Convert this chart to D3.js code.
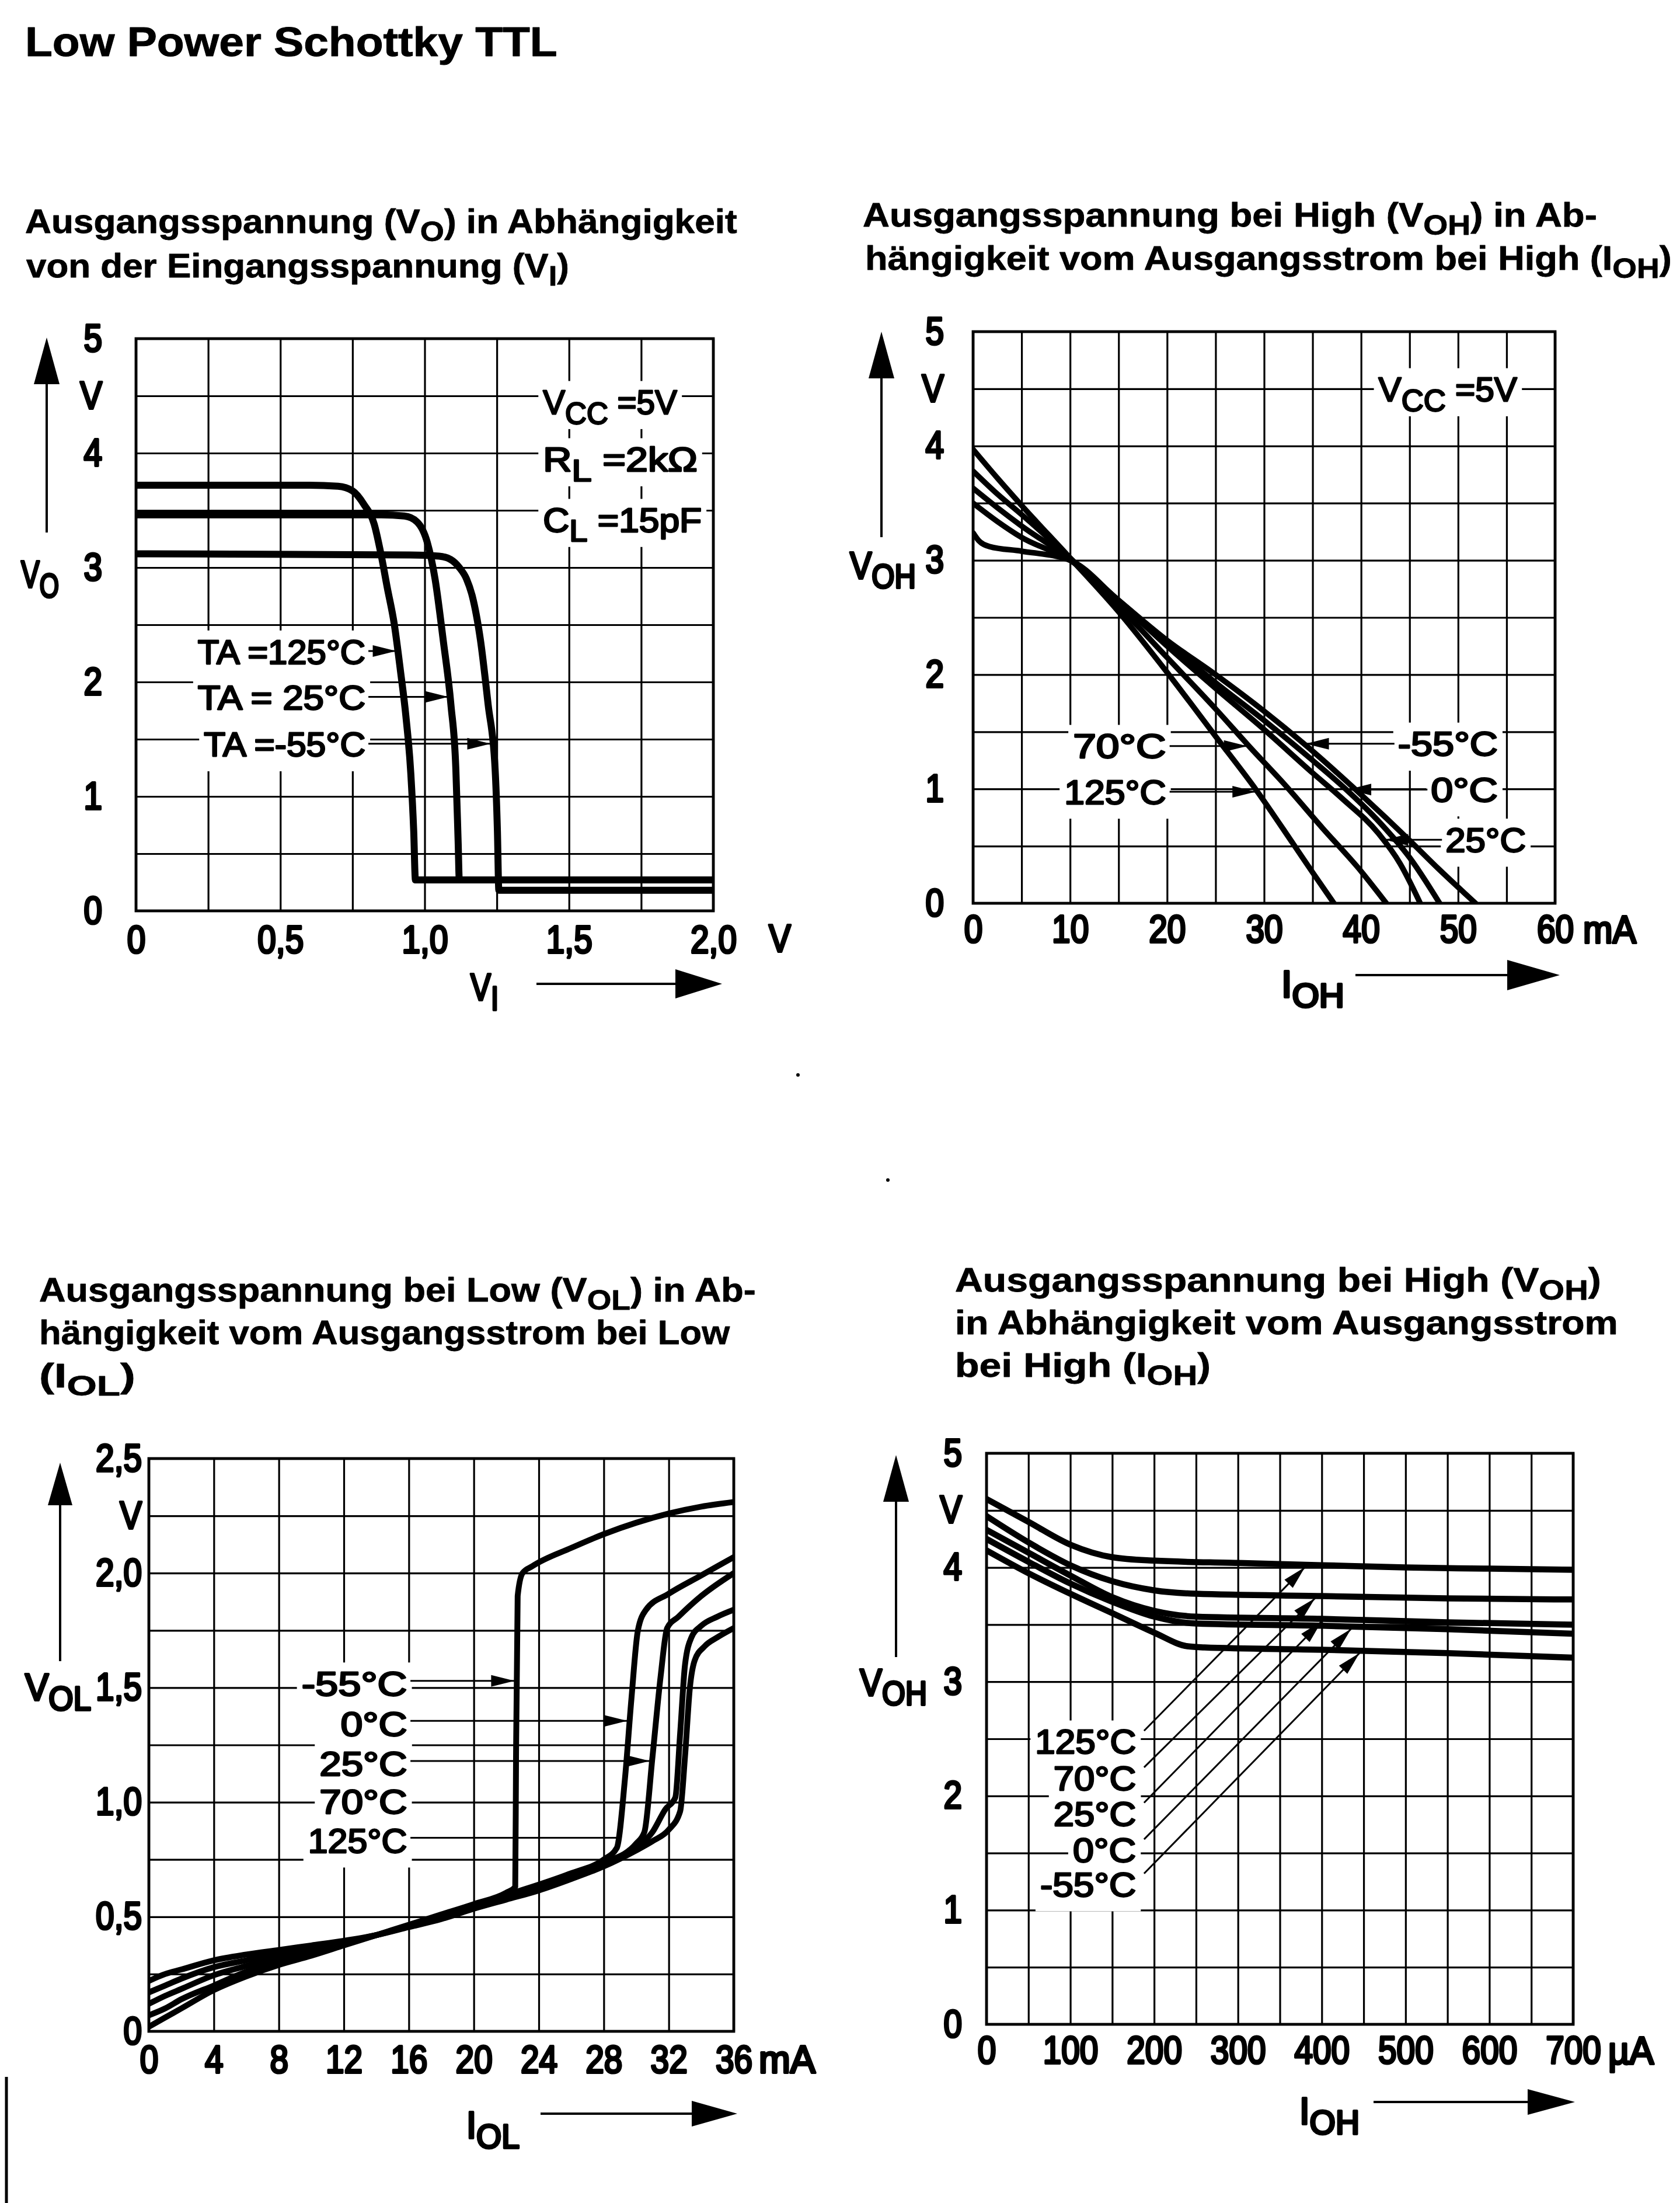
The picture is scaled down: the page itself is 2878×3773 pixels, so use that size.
<!DOCTYPE html>
<html><head><meta charset="utf-8">
<script src="https://cdn.jsdelivr.net/npm/d3@7"></script>
<style>
html,body{margin:0;padding:0;background:#fff;}
svg{display:block;}
text{font-family:'Liberation Sans',Arial,Helvetica,sans-serif;fill:#000;}
</style></head><body>
<svg id="c" width="2878" height="3773"></svg>
<script>
// ================= DATA =================
// Panel 1: V_O vs V_I  (x: V_I in V, y: V_O in V)
const p1XTicks = [0, 0.5, 1.0, 1.5, 2.0];
const p1YTicks = [0, 1, 2, 3, 4, 4.5, 5];
const p1_T125 = [[0,3.72],[0.6,3.72],[0.7,3.71],[0.75,3.67],[0.79,3.55],[0.825,3.38],[0.85,3.1],[0.87,2.83],[0.895,2.5],[0.916,2.1],[0.935,1.7],[0.952,1.2],[0.962,0.7],[0.968,0.27],[2.0,0.27]];
const p1_T25  = [[0,3.46],[0.85,3.46],[0.93,3.45],[0.973,3.40],[1.009,3.22],[1.036,2.9],[1.064,2.37],[1.091,1.8],[1.108,1.24],[1.116,0.6],[1.12,0.27],[2.0,0.27]];
const p1_Tm55 = [[0,3.12],[0.95,3.11],[1.05,3.1],[1.09,3.07],[1.12,3.0],[1.145,2.9],[1.165,2.75],[1.193,2.37],[1.22,1.8],[1.244,1.24],[1.252,0.7],[1.257,0.18],[2.0,0.18]];
const p1Names = ["TA =125°C", "TA = 25°C", "TA =-55°C"];

// Panel 2: V_OH vs I_OH (mA)
const p2XTicks = [0, 10, 20, 30, 40, 50, 60];
const p2YTicks = [0, 1, 2, 3, 4, 4.5, 5];
const p2_T125 = [[0,3.97],[2.5,3.72],[5,3.48],[10,3.02],[15,2.55],[20,2.02],[25,1.46],[29.2,0.99],[33,0.52],[35,0.27],[37.2,0]];
const p2_T70  = [[0,3.78],[2.5,3.58],[5,3.4],[10,3.02],[15,2.6],[20,2.15],[25,1.7],[28.6,1.36],[32,1.05],[36,0.66],[40,0.28],[42.6,0]];
const p2_T25  = [[0,3.63],[2.5,3.46],[5,3.3],[10,3.01],[15,2.64],[20,2.25],[25,1.88],[30,1.52],[35,1.14],[38,0.92],[41.8,0.61],[44,0.35],[46.1,0]];
const p2_T0   = [[0,3.5],[2.5,3.34],[5,3.2],[10,3.0],[15,2.65],[20,2.28],[25,1.93],[30,1.6],[35,1.25],[38.4,1.0],[42,0.7],[45,0.4],[48.1,0]];
const p2_Tm55 = [[0,3.24],[0.6,3.17],[1.7,3.12],[5,3.08],[10,3.0],[15,2.65],[20,2.3],[25,2.0],[30,1.68],[34.6,1.36],[40,0.95],[45,0.55],[48,0.3],[51.8,0]];
const p2Names = ["70°C", "125°C", "-55°C", "0°C", "25°C"];

// Panel 3: V_OL vs I_OL (mA)
const p3XTicks = [0, 4, 8, 12, 16, 20, 24, 28, 32, 36];
const p3YTicks = [0, 0.5, 1.0, 1.5, 2.0, 2.25, 2.5];
const p3_Tm55 = [[0,0.02],[1,0.06],[2,0.1],[4,0.18],[6,0.24],[8,0.29],[10,0.33],[12,0.375],[14,0.42],[16,0.465],[18,0.51],[20,0.555],[22,0.605],[22.55,0.63],[22.6,1.2],[22.7,1.9],[23.0,2.0],[23.6,2.03],[26,2.11],[28,2.17],[30,2.22],[32,2.26],[34,2.29],[36,2.31]];
const p3_T0   = [[0,0.07],[1,0.1],[2,0.14],[4,0.2],[6,0.26],[8,0.3],[10,0.34],[12,0.38],[14,0.42],[16,0.462],[18,0.505],[20,0.55],[22,0.595],[24,0.64],[26,0.69],[28,0.75],[28.8,0.8],[29.3,1.1],[29.7,1.45],[30.1,1.75],[30.6,1.84],[32,1.91],[34,1.99],[36,2.07]];
const p3_T25  = [[0,0.12],[1,0.155],[2,0.185],[4,0.245],[6,0.285],[8,0.32],[10,0.35],[12,0.385],[14,0.42],[16,0.46],[18,0.5],[20,0.545],[22,0.585],[24,0.63],[26,0.68],[28,0.735],[30,0.82],[30.5,0.87],[31.0,1.2],[31.5,1.55],[31.9,1.76],[32.6,1.81],[34,1.9],[36,2.0]];
const p3_T70  = [[0,0.17],[1,0.2],[2,0.23],[4,0.28],[6,0.31],[8,0.34],[10,0.365],[12,0.39],[14,0.42],[16,0.458],[18,0.497],[20,0.54],[22,0.58],[24,0.62],[26,0.67],[28,0.725],[30,0.8],[31,0.87],[31.8,0.97],[32.4,1.02],[32.7,1.3],[33.0,1.6],[33.4,1.72],[34,1.77],[35,1.81],[36,1.84]];
const p3_T125 = [[0,0.22],[1,0.25],[2,0.27],[4,0.31],[6,0.335],[8,0.355],[10,0.375],[12,0.395],[14,0.42],[16,0.455],[18,0.49],[20,0.535],[22,0.575],[24,0.615],[26,0.665],[28,0.72],[30,0.79],[31,0.83],[32,0.88],[32.7,0.96],[33.0,1.2],[33.3,1.5],[33.6,1.62],[34.2,1.68],[35,1.72],[36,1.76]];
const p3Names = ["-55°C", "0°C", "25°C", "70°C", "125°C"];

// Panel 4: V_OH vs I_OH (µA)
const p4XTicks = [0, 100, 200, 300, 400, 500, 600, 700];
const p4YTicks = [0, 1, 2, 3, 4, 4.5, 5];
const p4_T125 = [[0,4.6],[50,4.4],[100,4.2],[150,4.09],[200,4.06],[300,4.04],[400,4.02],[500,4.0],[600,3.99],[700,3.98]];
const p4_T70  = [[0,4.45],[50,4.22],[100,4.02],[150,3.88],[200,3.8],[250,3.77],[400,3.75],[550,3.73],[700,3.72]];
const p4_T25  = [[0,4.33],[50,4.13],[100,3.93],[150,3.74],[200,3.62],[250,3.57],[400,3.55],[550,3.52],[700,3.5]];
const p4_T0   = [[0,4.25],[50,4.05],[100,3.86],[150,3.7],[200,3.57],[250,3.51],[400,3.49],[550,3.46],[700,3.42]];
const p4_Tm55 = [[0,4.15],[50,3.95],[100,3.77],[150,3.6],[200,3.43],[240,3.31],[260,3.3],[400,3.28],[550,3.25],[700,3.21]];
const p4Names = ["125°C", "70°C", "25°C", "0°C", "-55°C"];

// ================= DRAWING =================
const svg = d3.select("#c");
svg.append("rect").attr("width", 2878).attr("height", 3773).attr("fill", "#fff");

const loc = d3.formatLocale({decimal: ",", thousands: ".", grouping: [3], currency: ["", "€"]});
const f1 = loc.format(".1f");
const fmtComma = v => v === 0 ? "0" : f1(v);
const TICK_SX = 0.86;
const THICK = 2.8;      // extra ink weight for annotation labels
const TICK_THICK = 4.2; // extra ink weight for tick / axis labels

function rich(parent, parts, size, weight, subScale, subDy) {
  const t = parent.append("text").attr("font-size", size).attr("font-weight", weight || "normal");
  let down = false;
  for (const p of parts) {
    const isSub = Array.isArray(p);
    const s = isSub ? p[0] : p;
    const ts = t.append("tspan").text(s);
    if (isSub) {
      ts.attr("font-size", size * subScale);
      if (!down) { ts.attr("dy", size * subDy); down = true; }
    } else if (down) { ts.attr("dy", -size * subDy); down = false; }
  }
  return t;
}
// place text so its box spans x0..x1 (horizontally scaled), baseline yb
function label(parent, parts, x0, x1, yb, size, o = {}) {
  const g = parent.append("g");
  const t = rich(g, parts, size, o.weight, o.subScale || 0.82, o.subDy || 0.26);
  if (o.thick) t.style("stroke", "#000").style("stroke-width", o.thick + "px").style("stroke-linejoin", "round");
  const bb = t.node().getBBox();
  const k = (x1 != null) ? (x1 - x0) / bb.width : (o.k || 1);
  g.attr("transform", `translate(${x0 - bb.x * k},${yb}) scale(${k},1)`);
  if (o.knock) {
    g.insert("rect", "text").attr("x", bb.x - 8 / k).attr("y", -size * 0.98)
      .attr("width", bb.width + 16 / k).attr("height", size * 1.42).attr("fill", "#fff");
  }
  return g;
}
function arrowHead(g, x1, y1, x2, y2, len, hw) {
  const a = Math.atan2(y2 - y1, x2 - x1);
  const bx = x2 - len * Math.cos(a), by = y2 - len * Math.sin(a);
  const px = -Math.sin(a) * hw, py = Math.cos(a) * hw;
  g.append("path").attr("d", `M${x2},${y2}L${bx + px},${by + py}L${bx - px},${by - py}Z`).attr("fill", "#000");
}
function leader(g, x1, y1, x2, y2, head = true) {
  g.append("line").attr("x1", x1).attr("y1", y1).attr("x2", x2).attr("y2", y2)
    .attr("stroke", "#000").attr("stroke-width", 3);
  if (head) arrowHead(g, x1, y1, x2, y2, 40, 10);
}
function crossX(pts, v) {
  for (let i = 0; i < pts.length - 1; i++) {
    const a = pts[i], b = pts[i + 1];
    if ((a[1] - v) * (b[1] - v) <= 0 && a[1] !== b[1]) return a[0] + (v - a[1]) / (b[1] - a[1]) * (b[0] - a[0]);
  }
  return pts[pts.length - 1][0];
}
function valAt(pts, xv) {
  for (let i = 0; i < pts.length - 1; i++) {
    const a = pts[i], b = pts[i + 1];
    if (xv >= a[0] && xv <= b[0]) return a[1] + (xv - a[0]) / (b[0] - a[0]) * (b[1] - a[1]);
  }
  return pts[pts.length - 1][1];
}
function yArrow(x, tip, base, hw, bottom) {
  svg.append("line").attr("x1", x).attr("x2", x).attr("y1", base - 2).attr("y2", bottom).attr("stroke", "#000").attr("stroke-width", 4);
  svg.append("path").attr("d", `M${x},${tip}L${x - hw},${base}L${x + hw},${base}Z`).attr("fill", "#000");
}
function xArrow(y, start, base, tip, hh) {
  svg.append("line").attr("x1", start).attr("x2", base + 2).attr("y1", y).attr("y2", y).attr("stroke", "#000").attr("stroke-width", 4);
  svg.append("path").attr("d", `M${tip},${y}L${base},${y - hh}L${base},${y + hh}Z`).attr("fill", "#000");
}

let clipId = 0;
function makePanel(c) {
  const x = d3.scaleLinear().domain(c.xDomain).range([c.left, c.right]);
  const y = d3.scaleLinear().domain(c.yDomain).range([c.bottom, c.top]);
  const g = svg.append("g");
  const w = c.right - c.left, h = c.bottom - c.top;
  const gridStyle = a => { a.select(".domain").remove(); a.selectAll("line").attr("stroke", "#000").attr("stroke-width", 3.2); };
  g.append("g").attr("transform", `translate(0,${c.bottom})`)
    .call(d3.axisBottom(x).tickValues(c.xGrid).tickSize(-h).tickFormat("")).call(gridStyle);
  g.append("g").attr("transform", `translate(${c.left},0)`)
    .call(d3.axisLeft(y).tickValues(c.yGrid).tickSize(-w).tickFormat("")).call(gridStyle);
  g.append("rect").attr("x", c.left).attr("y", c.top).attr("width", w).attr("height", h)
    .attr("fill", "none").attr("stroke", "#000").attr("stroke-width", 4.8);
  // tick labels through d3 axes
  const xa = g.append("g").attr("transform", `translate(0,${c.bottom})`)
    .call(d3.axisBottom(x).tickValues(c.xTicks).tickSize(0).tickPadding(c.xPad).tickFormat(c.xFmt));
  const ya = g.append("g").attr("transform", `translate(${c.left},0)`)
    .call(d3.axisLeft(y).tickValues(c.yTicks).tickSize(0).tickPadding(c.yPad / TICK_SX).tickFormat(c.yFmt));
  [xa, ya].forEach(a => {
    a.select(".domain").remove();
    a.attr("font-family", null).attr("font-size", null).attr("color", "#000");
    a.selectAll("text").attr("font-size", 66).attr("fill", "#000")
      .style("stroke", "#000").style("stroke-width", TICK_THICK + "px").style("stroke-linejoin", "round")
      .attr("transform", `scale(${TICK_SX},1)`);
  });
  const id = "clip" + (clipId++);
  svg.append("clipPath").attr("id", id).append("rect").attr("x", c.left).attr("y", c.top).attr("width", w).attr("height", h);
  const ann = svg.append("g");
  const curves = svg.append("g").attr("clip-path", `url(#${id})`);
  const lead = svg.append("g");
  return {x, y, ann, curves, lead};
}
function drawCurves(P, list, sw) {
  const line = d3.line().x(d => P.x(d[0])).y(d => P.y(d[1])).curve(d3.curveMonotoneX);
  P.curves.selectAll("path.c").data(list).join("path").attr("class", "c")
    .attr("d", d => line(d)).attr("fill", "none").attr("stroke", "#000")
    .attr("stroke-width", sw).attr("stroke-linejoin", "round").attr("stroke-linecap", "round");
}

// ---------- titles ----------
label(svg, ["Low Power Schottky TTL"], 43, 955, 96, 70, {weight: "bold", thick: 1});
const TS = 57, TO = {weight: "bold", subScale: 0.85, subDy: 0.24, thick: 0.8};
label(svg, ["Ausgangsspannung (V", ["O"], ") in Abhängigkeit"], 43, 1263, 399, TS, TO);
label(svg, ["von der Eingangsspannung (V", ["I"], ")"], 45, 975, 475, TS, TO);
label(svg, ["Ausgangsspannung bei High (V", ["OH"], ") in Ab-"], 1478, 2736, 388, TS, TO);
label(svg, ["hängigkeit vom Ausgangsstrom bei High (I", ["OH"], ")"], 1482, 2864, 462, TS, TO);
label(svg, ["Ausgangsspannung bei Low (V", ["OL"], ") in Ab-"], 67, 1295, 2229, TS, TO);
label(svg, ["hängigkeit vom Ausgangsstrom bei Low"], 67, 1251, 2302, TS, TO);
label(svg, ["(I", ["OL"], ")"], 67, 232, 2376, TS, TO);
label(svg, ["Ausgangsspannung bei High (V", ["OH"], ")"], 1636, 2743, 2212, TS, TO);
label(svg, ["in Abhängigkeit vom Ausgangsstrom"], 1636, 2772, 2285, TS, TO);
label(svg, ["bei High (I", ["OH"], ")"], 1636, 2074, 2358, TS, TO);

const AS = 58, AO = {knock: true, subScale: 0.9, subDy: 0.28, thick: THICK};
const NO = {subScale: 0.9, subDy: 0.27, thick: TICK_THICK};
const yFmtV = v => v === 4.5 ? "V" : String(v);

// ---------- Panel 1 ----------
const P1 = makePanel({left: 233, right: 1222, top: 580, bottom: 1560, xDomain: [0, 2], yDomain: [0, 5],
  xGrid: d3.range(0, 2.001, 0.25), yGrid: d3.range(0, 5.001, 0.5),
  xTicks: p1XTicks, xFmt: fmtComma, xPad: 25, yTicks: p1YTicks, yFmt: yFmtV, yPad: 58});
label(P1.ann, ["V", ["CC"], " =5V"], P1.x(1.41), P1.x(1.875), P1.y(4.34), AS, AO);
label(P1.ann, ["R", ["L"], "  =2kΩ"], P1.x(1.41), P1.x(1.945), P1.y(3.84), AS, AO);
label(P1.ann, ["C", ["L"], "  =15pF"], P1.x(1.41), P1.x(1.96), P1.y(3.31), AS, AO);
[[p1Names[0], p1_T125, 0.214, 2.16], [p1Names[1], p1_T25, 0.214, 1.76], [p1Names[2], p1_Tm55, 0.235, 1.35]]
  .forEach(([txt, pts, x0, b]) => {
    label(P1.ann, [txt], P1.x(x0), P1.x(0.795), P1.y(b), AS, AO);
    const lv = b + 0.11;
    leader(P1.lead, P1.x(0.805), P1.y(lv), P1.x(crossX(pts, lv)) - 3, P1.y(lv));
  });
drawCurves(P1, [p1_T125, p1_T25, p1_Tm55], 12);
label(svg, ["V"], 1317, null, 1630, 66, {k: TICK_SX, thick: TICK_THICK});
label(svg, ["V", ["O"]], 36, 101, 1006, 64, NO);
label(svg, ["V", ["I"]], 806, 854, 1713, 64, NO);
yArrow(80, 578, 658, 22, 912);
xArrow(1685, 919, 1157, 1237, 25);

// ---------- Panel 2 ----------
const P2 = makePanel({left: 1667, right: 2664, top: 568, bottom: 1547, xDomain: [0, 60], yDomain: [0, 5],
  xGrid: d3.range(0, 60.1, 5), yGrid: d3.range(0, 5.001, 0.5),
  xTicks: p2XTicks, xFmt: d => String(d), xPad: 20, yTicks: p2YTicks, yFmt: yFmtV, yPad: 50});
label(P2.ann, ["V", ["CC"], " =5V"], P2.x(41.8), P2.x(56.1), P2.y(4.39), AS, AO);
[[p2Names[0], p2_T70, 10.3, 19.9, 1.27, 1], [p2Names[1], p2_T125, 9.4, 19.9, 0.87, 1],
 [p2Names[2], p2_Tm55, 43.8, 54.1, 1.29, -1], [p2Names[3], p2_T0, 47.2, 54.1, 0.89, -1],
 [p2Names[4], p2_T25, 48.7, 57.0, 0.45, -1]].forEach(([txt, pts, x0, x1, b, dir]) => {
  label(P2.ann, [txt], P2.x(x0), P2.x(x1), P2.y(b), AS, AO);
  const lv = b + 0.105;
  const sx = dir > 0 ? P2.x(x1) + 6 : P2.x(x0) - 6;
  leader(P2.lead, sx, P2.y(lv), P2.x(crossX(pts, lv)) - 3 * dir, P2.y(lv));
});
drawCurves(P2, [p2_T125, p2_T70, p2_T25, p2_T0, p2_Tm55], 9.5);
label(svg, ["mA"], 2712, 2803, 1615, 66, {thick: TICK_THICK});
label(svg, ["V", ["OH"]], 1456, 1569, 991, 64, {subScale: 0.9, subDy: 0.25, thick: TICK_THICK});
label(svg, ["I", ["OH"]], 2195, 2303, 1708, 64, NO);
yArrow(1510, 568, 648, 22, 920);
xArrow(1670, 2322, 2582, 2672, 26);

// ---------- Panel 3 ----------
const P3 = makePanel({left: 255, right: 1257, top: 2498, bottom: 3479, xDomain: [0, 36], yDomain: [0, 2.5],
  xGrid: d3.range(0, 36.1, 4), yGrid: d3.range(0, 2.501, 0.25),
  xTicks: p3XTicks, xFmt: d => String(d), xPad: 24, yTicks: p3YTicks,
  yFmt: v => v === 2.25 ? "V" : fmtComma(v), yPad: 12});
[[p3Names[0], p3_Tm55, 9.4, 1.465, "arrow"], [p3Names[1], p3_T0, 11.8, 1.29, "arrow"],
 [p3Names[2], p3_T25, 10.5, 1.115, "arrow"], [p3Names[3], p3_T70, 10.5, 0.95, "none"],
 [p3Names[4], p3_T125, 9.8, 0.78, "line"]].forEach(([txt, pts, x0, b, kind]) => {
  label(P3.ann, [txt], P3.x(x0), P3.x(15.9), P3.y(b), AS, AO);
  const lv = b + 0.065;
  if (kind === "arrow") leader(P3.lead, P3.x(16.1), P3.y(lv), P3.x(crossX(pts, lv)) - 4, P3.y(lv));
  if (kind === "line") leader(P3.lead, P3.x(16.1), P3.y(lv), P3.x(28.8), P3.y(lv), false);
});
drawCurves(P3, [p3_Tm55, p3_T0, p3_T25, p3_T70, p3_T125], 10);
label(svg, ["mA"], 1300, 1397, 3550, 66, {thick: TICK_THICK});
label(svg, ["V", ["OL"]], 43, 156, 2912, 64, NO);
label(svg, ["I", ["OL"]], 799, 890, 3662, 64, NO);
yArrow(103, 2505, 2578, 21, 2845);
xArrow(3620, 926, 1185, 1263, 22);

// ---------- Panel 4 ----------
const P4 = makePanel({left: 1690, right: 2695, top: 2489, bottom: 3467, xDomain: [0, 700], yDomain: [0, 5],
  xGrid: d3.range(0, 700.1, 50), yGrid: d3.range(0, 5.001, 0.5),
  xTicks: p4XTicks, xFmt: d => String(d), xPad: 20, yTicks: p4YTicks, yFmt: yFmtV, yPad: 42});
[[p4Names[0], p4_T125, 58, 2.37, 380], [p4Names[1], p4_T70, 80, 2.05, 392],
 [p4Names[2], p4_T25, 80, 1.74, 400], [p4Names[3], p4_T0, 103, 1.42, 435],
 [p4Names[4], p4_Tm55, 64, 1.12, 445]].forEach(([txt, pts, x0, b, tipI]) => {
  label(P4.ann, [txt], P4.x(x0), P4.x(178.5), P4.y(b), AS, AO);
  leader(P4.lead, P4.x(188), P4.y(b + 0.2), P4.x(tipI), P4.y(valAt(pts, tipI)) + 4);
});
drawCurves(P4, [p4_T125, p4_T70, p4_T25, p4_T0, p4_Tm55], 10.5);
label(svg, ["µA"], 2755, 2833, 3535, 66, {thick: TICK_THICK});
label(svg, ["V", ["OH"]], 1473, 1588, 2904, 64, {subScale: 0.9, subDy: 0.25, thick: TICK_THICK});
label(svg, ["I", ["OH"]], 2226, 2329, 3638, 64, NO);
yArrow(1535, 2492, 2572, 22, 2838);
xArrow(3600, 2353, 2617, 2698, 22);

// scan marks
svg.append("circle").attr("cx", 1367).attr("cy", 1841).attr("r", 3).attr("fill", "#000");
svg.append("circle").attr("cx", 1521).attr("cy", 2021).attr("r", 3).attr("fill", "#000");
svg.append("line").attr("x1", 11).attr("x2", 11).attr("y1", 3557).attr("y2", 3773).attr("stroke", "#000").attr("stroke-width", 5);
</script></body></html>
